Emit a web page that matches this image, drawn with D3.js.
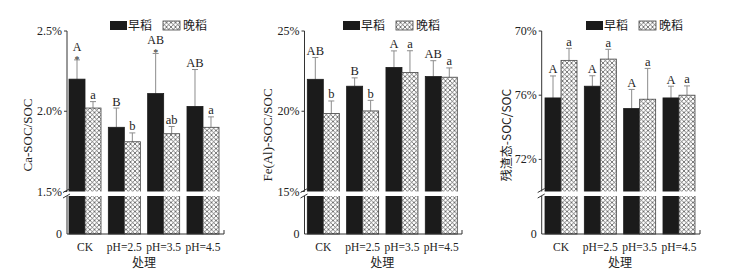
<!DOCTYPE html>
<html>
<head>
<meta charset="utf-8">
<title>处理 SOC 比例</title>
<script src="https://cdn.jsdelivr.net/npm/d3@7/dist/d3.min.js"></script>
<style>
  *{margin:0;padding:0;}
  body{background:#fff;}
  text{font-family:"Liberation Serif","Times New Roman",serif;fill:#222;}
  .cn{font-family:"Noto Sans CJK SC",sans-serif;}
</style>
</head>
<body>
<div id="show"></div>
<script>
// 数据
var cats = ["CK", "pH=2.5", "pH=3.5", "pH=4.5"];

var caEarly = [2.20, 1.90, 2.11, 2.03];
var caEarlyErr = [0.12, 0.12, 0.25, 0.23];
var caLate = [2.02, 1.81, 1.86, 1.90];
var caLateErr = [0.04, 0.055, 0.045, 0.065];
var caEarlyLetters = ["A", "B", "AB", "AB"];
var caLateLetters = ["a", "b", "ab", "a"];
var caStars = ["*", "", "*", ""];
var caTicks = [1.5, 2.0, 2.5];
var caTickLabels = ["1.5%", "2.0%", "2.5%"];

var feEarly = [21.99, 21.56, 22.73, 22.16];
var feEarlyErr = [1.36, 0.52, 1.03, 0.99];
var feLate = [19.86, 20.02, 22.41, 22.12];
var feLateErr = [0.78, 0.66, 1.36, 0.58];
var feEarlyLetters = ["AB", "B", "A", "AB"];
var feLateLetters = ["b", "b", "a", "a"];
var feStars = ["", "", "", ""];
var feTicks = [15, 20, 25];
var feTickLabels = ["15%", "20%", "25%"];

var resEarly = [75.83, 76.56, 75.17, 75.83];
var resEarlyErr = [1.37, 0.65, 1.19, 0.73];
var resLate = [78.17, 78.25, 75.75, 76.0];
var resLateErr = [0.75, 0.61, 1.92, 0.58];
var resEarlyLetters = ["A", "A", "A", "A"];
var resLateLetters = ["a", "a", "a", "a"];
var resStars = ["", "", "", ""];
var resTicks = [72, 76, 80];
var resTickLabels = ["72%", "76%", "70%"];

var seriesNames = ["早稻", "晚稻"];
</script>
<script>
var W = 731, H = 276;
var svg = d3.select("#show").append("svg").attr("width", W).attr("height", H);

// 交叉网格填充
var defs = svg.append("defs");
var pat = defs.append("pattern").attr("id", "hatch")
  .attr("patternUnits", "userSpaceOnUse").attr("width", 4.5).attr("height", 4.5);
pat.append("rect").attr("width", 4.5).attr("height", 4.5).attr("fill", "#fff");
pat.append("path").attr("d", "M0,0L4.5,4.5M4.5,0L0,4.5")
  .attr("stroke", "#444").attr("stroke-width", 0.7);

var yTop = 31, yBreak = 191.5, yGap = 196, y0 = 234;

function drawPanel(p){
  var x = d3.scaleBand().domain(cats).range([p.barStart, p.barStart + 150])
    .paddingInner(0.186).paddingOuter(0);
  var xs = d3.scaleBand().domain([0, 1]).range([0, x.bandwidth()]);
  var y = d3.scaleLinear().domain(p.domain).range([yBreak, yTop]);
  var g = svg.append("g");

  var rows = cats.map(function(c, i){
    return [
      {c: c, s: 0, v: p.early[i], e: p.earlyErr[i], l: p.earlyLetters[i], star: p.stars[i]},
      {c: c, s: 1, v: p.late[i], e: p.lateErr[i], l: p.lateLetters[i], star: ""}
    ];
  });
  var flat = [].concat.apply([], rows);

  // 误差线
  g.selectAll(".err").data(flat).enter().append("path")
    .attr("d", function(d){
      var cx = x(d.c) + xs(d.s) + xs.bandwidth() / 2;
      var t = y(d.v + d.e);
      return "M" + cx + "," + y(d.v) + "V" + t + "M" + (cx - 3) + "," + t + "H" + (cx + 3);
    })
    .attr("stroke", "#8c8c8c").attr("stroke-width", 1).attr("fill", "none");

  // 柱子
  g.selectAll(".bar").data(flat).enter().append("rect")
    .attr("x", function(d){ return x(d.c) + xs(d.s); })
    .attr("y", function(d){ return y(d.v); })
    .attr("width", xs.bandwidth())
    .attr("height", function(d){ return y0 - y(d.v); })
    .attr("fill", function(d){ return d.s == 0 ? "#1b1b1b" : "url(#hatch)"; })
    .attr("stroke", function(d){ return d.s == 0 ? "#1b1b1b" : "#444"; })
    .attr("stroke-width", 0.8);

  // 字母标记
  g.selectAll(".lab").data(flat).enter().append("text")
    .attr("x", function(d){ return x(d.c) + xs(d.s) + xs.bandwidth() / 2; })
    .attr("y", function(d){ return y(d.v + d.e) - (d.star ? 9 : 2.5); })
    .attr("text-anchor", "middle").attr("font-size", function(d){ return d.star ? 12 : 12.5; })
    .text(function(d){ return d.l; });
  g.selectAll(".star").data(flat.filter(function(d){ return d.star; })).enter().append("text")
    .attr("x", function(d){ return x(d.c) + xs(d.s) + xs.bandwidth() / 2; })
    .attr("y", function(d){ return y(d.v + d.e) + 3; })
    .attr("text-anchor", "middle").attr("font-size", 10)
    .text(function(d){ return d.star; });

  // 断轴空白
  g.append("rect").attr("x", p.axisX - 3).attr("y", yBreak)
    .attr("width", p.axisEnd - p.axisX + 6).attr("height", yGap - yBreak).attr("fill", "#fff");

  // y 轴
  var ax = "#333";
  g.append("line").attr("x1", p.axisX).attr("x2", p.axisX).attr("y1", yTop).attr("y2", yBreak)
    .attr("stroke", ax);
  g.append("line").attr("x1", p.axisX).attr("x2", p.axisX).attr("y1", yGap).attr("y2", y0)
    .attr("stroke", ax);
  g.append("path").attr("d",
      "M" + (p.axisX - 4) + "," + (yBreak + 1) + "L" + (p.axisX + 3) + "," + (yBreak - 3) +
      "M" + (p.axisX - 4) + "," + (yGap + 2) + "L" + (p.axisX + 3) + "," + (yGap - 2))
    .attr("stroke", ax).attr("fill", "none");
  var ticks = g.selectAll(".tick").data(p.ticks).enter().append("g");
  ticks.append("line").attr("x1", p.axisX - 3).attr("x2", p.axisX)
    .attr("y1", function(d){ return y(d); }).attr("y2", function(d){ return y(d); })
    .attr("stroke", ax);
  ticks.append("text").attr("x", p.axisX - 5).attr("y", function(d){ return y(d) + 4; })
    .attr("text-anchor", "end").attr("font-size", 12)
    .text(function(d, i){ return p.tickLabels[i]; });
  g.append("text").attr("x", p.axisX - 5).attr("y", y0 + 4)
    .attr("text-anchor", "end").attr("font-size", 12).text("0");

  // x 轴
  g.append("path").attr("d", "M" + p.axisX + "," + y0 + "H" + p.axisEnd + "V" + (y0 - 4))
    .attr("stroke", ax).attr("fill", "none");
  g.selectAll(".cat").data(cats).enter().append("text")
    .attr("x", function(d){ return x(d) + x.bandwidth() / 2; })
    .attr("y", 251).attr("text-anchor", "middle").attr("font-size", 11.5)
    .text(function(d){ return d; });
  g.append("text").attr("class", "cn")
    .attr("x", p.barStart + 75).attr("y", 267).attr("text-anchor", "middle")
    .attr("font-size", 12).text("处理");

  // y 轴标题
  g.append("text").attr("class", p.cnTitle ? "cn" : null)
    .attr("transform", "translate(" + p.titleX + "," + 135 + ") rotate(-90)")
    .attr("text-anchor", "middle").attr("font-size", p.cnTitle ? 12 : 13)
    .text(p.title);

  // 图例
  var lg = g.append("g");
  lg.append("rect").attr("x", p.legX[0]).attr("y", 21).attr("width", 17).attr("height", 9)
    .attr("fill", "#1b1b1b");
  lg.append("text").attr("class", "cn").attr("x", p.legX[0] + 18).attr("y", 29.5)
    .attr("font-size", 12).text(seriesNames[0]);
  lg.append("rect").attr("x", p.legX[1]).attr("y", 21).attr("width", 17).attr("height", 9)
    .attr("fill", "url(#hatch)").attr("stroke", "#444").attr("stroke-width", 0.8);
  lg.append("text").attr("class", "cn").attr("x", p.legX[1] + 20).attr("y", 29.5)
    .attr("font-size", 12).text(seriesNames[1]);
}

drawPanel({axisX: 67, axisEnd: 224, barStart: 69, domain: [1.5, 2.5],
  early: caEarly, earlyErr: caEarlyErr, late: caLate, lateErr: caLateErr,
  earlyLetters: caEarlyLetters, lateLetters: caLateLetters, stars: caStars,
  ticks: caTicks, tickLabels: caTickLabels, title: "Ca-SOC/SOC", titleX: 32,
  legX: [110, 163]});

drawPanel({axisX: 304.5, axisEnd: 462, barStart: 307.3, domain: [15, 25],
  early: feEarly, earlyErr: feEarlyErr, late: feLate, lateErr: feLateErr,
  earlyLetters: feEarlyLetters, lateLetters: feLateLetters, stars: feStars,
  ticks: feTicks, tickLabels: feTickLabels, title: "Fe(Al)-SOC/SOC", titleX: 272,
  legX: [343, 396]});

drawPanel({axisX: 541.7, axisEnd: 700, barStart: 545, domain: [70, 80],
  early: resEarly, earlyErr: resEarlyErr, late: resLate, lateErr: resLateErr,
  earlyLetters: resEarlyLetters, lateLetters: resLateLetters, stars: resStars,
  ticks: resTicks, tickLabels: resTickLabels, title: "残渣态-SOC/SOC", titleX: 511, cnTitle: true,
  legX: [586, 639]});
</script>
</body>
</html>
